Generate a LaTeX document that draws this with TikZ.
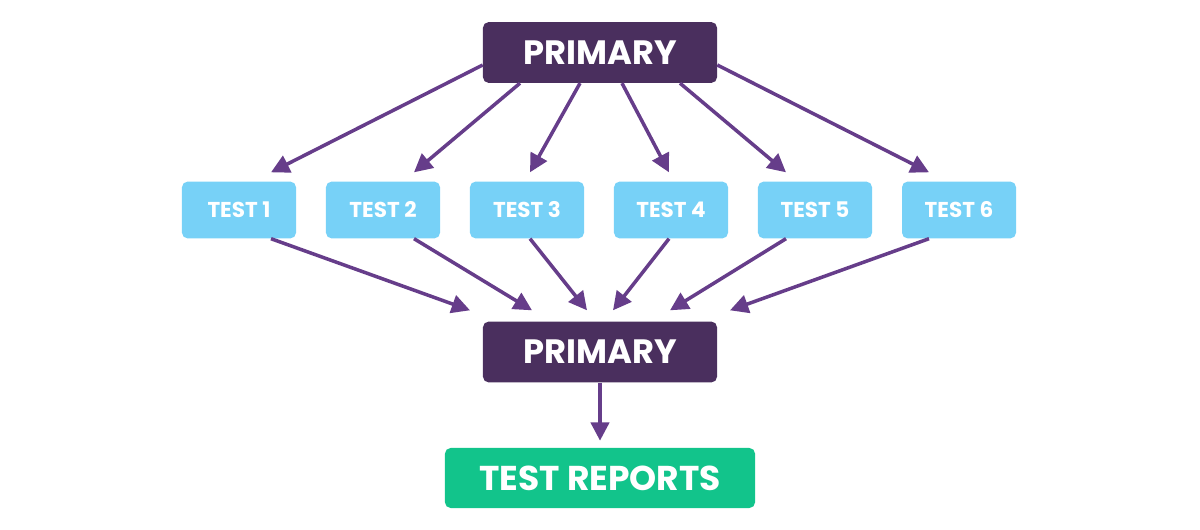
\documentclass[tikz,border=0pt]{standalone}
\usepackage{fontspec}
\setmainfont{Poppins}
\usepackage{tikz}
\usetikzlibrary{arrows.meta,positioning,calc}

\definecolor{hubpurple}{HTML}{4A2F5E}
\definecolor{arrowpurple}{HTML}{663D8A}
\definecolor{testblue}{HTML}{77D1F7}
\definecolor{reportgreen}{HTML}{12C48B}

\begin{document}
\begin{tikzpicture}[
    x=0.025cm, y=-0.025cm,
    node distance=1.625cm,
    hub/.style={
        rounded corners=4pt,
        align=center,
        minimum width=5.85cm,
        minimum height=1.52cm,
        fill=hubpurple,
        text=white,
        font=\bfseries\fontsize{24}{26}\selectfont
    },
    testblock/.style={
        rounded corners=4pt,
        align=center,
        minimum width=2.85cm,
        minimum height=1.42cm,
        fill=testblue,
        text=white,
        font=\bfseries\fontsize{15.3}{17}\selectfont
    },
    report/.style={
        rounded corners=4pt,
        align=center,
        minimum width=7.75cm,
        minimum height=1.5cm,
        fill=reportgreen,
        text=white,
        font=\bfseries\fontsize{24.5}{26}\selectfont
    },
    line/.style={-{Triangle[length=13pt,width=13pt]}, line width=2.5pt, arrowpurple}
]
\useasboundingbox (0,0) rectangle (1200,530);

% --- Top ---
\node[hub] (top) at (600,52.5) {PRIMARY};

% --- Tests ---
\foreach \i/\x in {1/239,2/383,3/527,4/671,5/815,6/959}
    \node[testblock] (t\i) at (\x,210) {TEST \i};

% --- Merge and reports ---
\node[hub] (mid) at (600,352) {PRIMARY};
\node[report, below=of mid] (rep) {TEST REPORTS};

% --- Connections ---
\draw[line] ($(top.west)+(0,12.5)$) -- ($(t1.north)+(32,-9)$);
\draw[line] ($(top.south)+(-80,0)$) -- ($(t2.north)+(31,-9)$);
\draw[line] ($(top.south)+(-20,0)$) -- ($(t3.north)+(3,-9)$);
\draw[line] ($(top.south)+(22,0)$) -- ($(t4.north)+(-2,-9)$);
\draw[line] ($(top.south)+(80,0)$) -- ($(t5.north)+(-29,-9)$);
\draw[line] ($(top.east)+(0,12.5)$) -- ($(t6.north)+(-30,-9)$);

\foreach \i/\a/\b in {1/32/-130,2/31/-68,3/3/-13,4/-2/13,5/-29/70,6/-30/130}
    \draw[line] ($(t\i.south)+(\a,0)$) -- ($(mid.north)+(\b,-11)$);

\draw[line, shorten >=5pt] (mid) -- (rep);

\end{tikzpicture}
\end{document}
